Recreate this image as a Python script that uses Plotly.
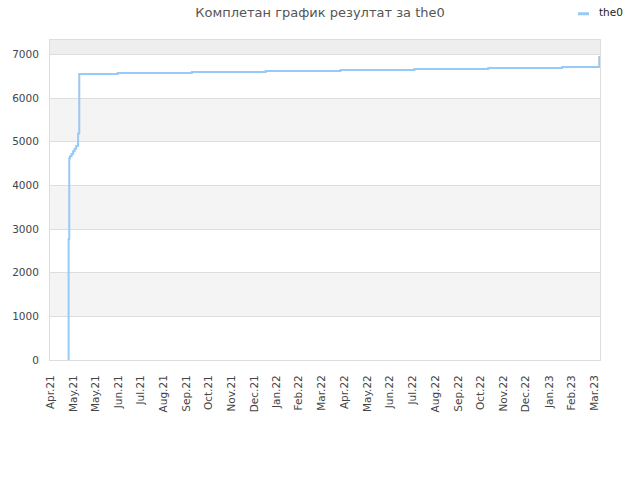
import plotly.graph_objects as go

# cumulative result of the0
dates = [
    "2021-04-26 00:00", "2021-04-26 04:00", "2021-04-27", "2021-04-28",
    "2021-04-30", "2021-05-02", "2021-05-04", "2021-05-06",
    "2021-05-08 06:00", "2021-05-08 12:00",
    "2021-05-10", "2021-06-29", "2021-10-03", "2022-01-07", "2022-04-14",
    "2022-07-19", "2022-10-23", "2023-01-27", "2023-03-16",
]
points = [
    0, 2770, 4620, 4670,
    4720, 4780, 4840, 4900,
    4960, 5190,
    6550, 6573, 6596, 6619, 6642,
    6665, 6688, 6711, 6962,
]

tick_dates = [
    "2021-04-03", "2021-05-02", "2021-05-31", "2021-06-30", "2021-07-29",
    "2021-08-27", "2021-09-26", "2021-10-25", "2021-11-24", "2021-12-23",
    "2022-01-21", "2022-02-19", "2022-03-21", "2022-04-19", "2022-05-19",
    "2022-06-17", "2022-07-17", "2022-08-15", "2022-09-14", "2022-10-13",
    "2022-11-12", "2022-12-11", "2023-01-10", "2023-02-08", "2023-03-10",
]
tick_labels = [
    "Apr.21", "May.21", "May.21", "Jun.21", "Jul.21",
    "Aug.21", "Sep.21", "Oct.21", "Nov.21", "Dec.21",
    "Jan.22", "Feb.22", "Mar.22", "Apr.22", "May.22",
    "Jun.22", "Jul.22", "Aug.22", "Sep.22", "Oct.22",
    "Nov.22", "Dec.22", "Jan.23", "Feb.23", "Mar.23",
]
y_ticks = [0, 1000, 2000, 3000, 4000, 5000, 6000, 7000]
y_top = 7330
line_color = "#99c9f5"

fig = go.Figure()
fig.add_trace(go.Scatter(
    x=dates,
    y=points,
    mode="lines",
    line=dict(color=line_color, width=2, shape="hv"),
    name="the0",
))

# alternating grey bands behind the grid
bands = [(1000, 2000, "#f4f4f4"), (3000, 4000, "#f4f4f4"),
         (5000, 6000, "#f4f4f4"), (7000, y_top, "#eeeeee")]
for y0, y1, col in bands:
    fig.add_shape(type="rect", xref="paper", yref="y", x0=0, x1=1, y0=y0, y1=y1,
                  fillcolor=col, line_width=0, layer="below")

# small legend in the top right corner
fig.add_shape(type="line", xref="paper", yref="paper",
              x0=0.96, x1=0.98, y0=1.082, y1=1.082,
              line=dict(color=line_color, width=3))
fig.add_annotation(text="the0", xref="paper", yref="paper", x=0.995, y=1.086,
                   xanchor="left", yanchor="middle", showarrow=False,
                   font=dict(size=10.5, color="#222222"))

fig.update_layout(
    width=640,
    height=480,
    margin=dict(l=50, r=40, t=40, b=120),
    paper_bgcolor="white",
    plot_bgcolor="white",
    font=dict(family="DejaVu Sans", size=10.5, color="#444444"),
    title=dict(text="Комплетан график резултат за the0", x=0.5, xanchor="center",
               y=0.975, yanchor="middle", font=dict(size=13, color="#555555")),
    showlegend=False,
)
fig.update_xaxes(
    type="date",
    range=["2021-04-02", "2023-03-17"],
    tickvals=tick_dates,
    ticktext=tick_labels,
    tickangle=-90,
    showgrid=False,
    showline=True, linecolor="#dddddd", linewidth=1, mirror=True,
    ticks="", ticklabelstandoff=10,
    zeroline=False, automargin=False,
)
fig.update_yaxes(
    range=[0, y_top],
    tickvals=y_ticks,
    showgrid=True, gridcolor="#dddddd", gridwidth=1,
    showline=True, linecolor="#dddddd", linewidth=1, mirror=True,
    ticks="", ticklabelstandoff=8,
    zeroline=False, automargin=False,
)

# drop the page margin so the chart sits at the window corner
fig.write_html("out.html", config={"displayModeBar": False},
               post_script="document.body.style.margin='0';")
